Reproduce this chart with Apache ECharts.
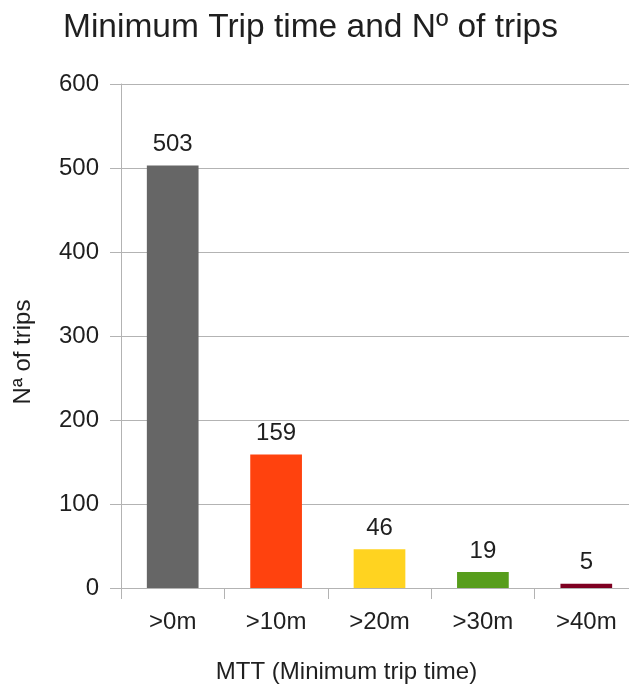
<!DOCTYPE html>
<html>
<head>
<meta charset="utf-8">
<script src="https://cdn.jsdelivr.net/npm/echarts@6/dist/echarts.min.js"></script>
<style>
  html, body { margin: 0; padding: 0; background: #fff; }
  #main { width: 629px; height: 686px; }
</style>
</head>
<body>
<div id="main"></div>
<script>
// data
var categories = ['>0m', '>10m', '>20m', '>30m', '>40m'];
var trips = [503, 159, 46, 19, 5];
var barColors = ['#666666', '#ff420e', '#ffd320', '#579d1c', '#7e0021'];
var yTicks = { min: 0, max: 600, interval: 100 };

var font = 'Liberation Sans, Arial, sans-serif';
var ink = '#1f1f1f';
var lineCol = '#b3b3b3';

var myChart = echarts.init(document.getElementById('main'), null, { renderer: 'canvas' });

var barData = [];
for (var i = 0; i < trips.length; i++) {
    barData.push({ value: trips[i], itemStyle: { color: barColors[i] } });
}

var option = {
    backgroundColor: '#fff',
    animation: false,
    title: {
        text: 'Minimum Trip time and Nº of trips',
        left: 58,
        top: 6,
        textStyle: { fontFamily: font, fontSize: 33.5, fontWeight: 'normal', color: ink }
    },
    // plot runs past the right edge in the reference (cropped)
    grid: { left: 121, top: 84, height: 504, width: 517, outerBoundsMode: 'none' },
    xAxis: {
        type: 'category',
        data: categories,
        name: 'MTT (Minimum trip time)',
        nameLocation: 'middle',
        nameGap: 72,
        nameTextStyle: { fontFamily: font, fontSize: 24, color: ink, padding: [0, 66, 0, 0] },
        axisLine: { lineStyle: { color: lineCol, width: 1 } },
        axisTick: { show: true, length: 11, lineStyle: { color: lineCol } },
        axisLabel: { fontFamily: font, fontSize: 24, color: ink, margin: 22 }
    },
    yAxis: {
        type: 'value',
        min: yTicks.min,
        max: yTicks.max,
        interval: yTicks.interval,
        name: 'Nª of trips',
        nameLocation: 'middle',
        nameGap: 86,
        nameTextStyle: { fontFamily: font, fontSize: 24, color: ink, padding: [0, 32, 0, 0] },
        axisLine: { show: true, lineStyle: { color: lineCol, width: 1 } },
        axisTick: { show: true, length: 11, lineStyle: { color: lineCol } },
        splitLine: { show: true, lineStyle: { color: lineCol, width: 1 } },
        axisLabel: { fontFamily: font, fontSize: 24, color: ink, margin: 22 }
    },
    series: [{
        name: 'Trips',
        type: 'bar',
        barWidth: '50%',
        data: barData,
        label: {
            show: true,
            position: 'top',
            distance: 9,
            fontFamily: font,
            fontSize: 24,
            color: ink
        }
    }]
};

myChart.setOption(option);
</script>
</body>
</html>
